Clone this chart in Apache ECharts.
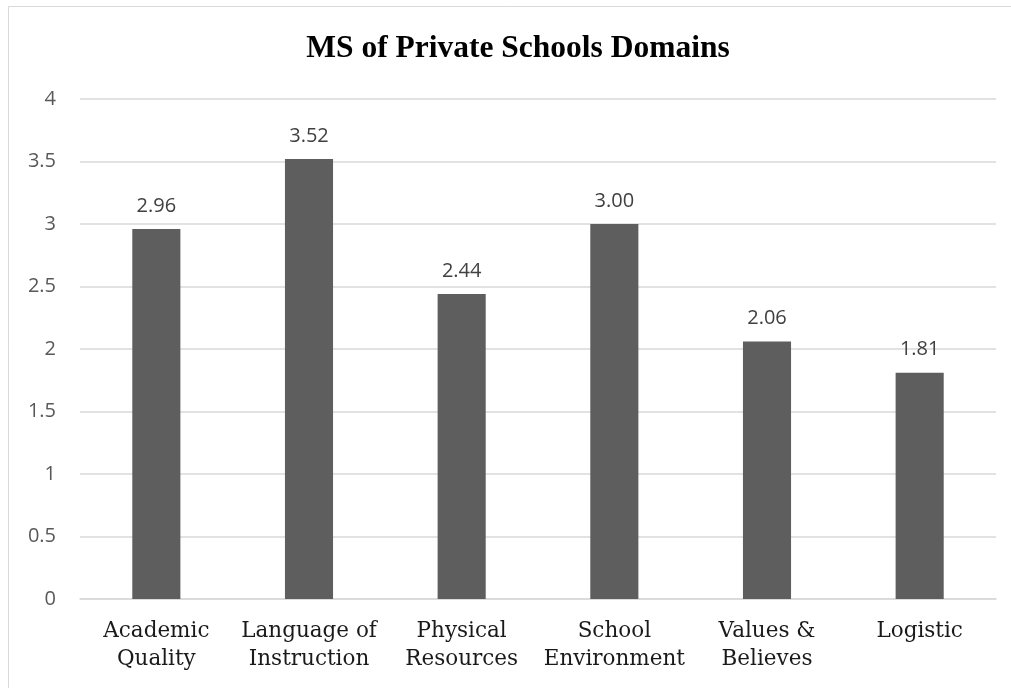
<!DOCTYPE html>
<html>
<head>
<meta charset="utf-8">
<script src="https://cdn.jsdelivr.net/npm/echarts@6/dist/echarts.min.js"></script>
<style>
  html, body { margin: 0; padding: 0; background: #ffffff; }
  #chart { width: 1011px; height: 688px; }
</style>
</head>
<body>
<div id="chart"></div>
<script>
// Domain names (two-line labels) and their mean scores
const categories = [
  'Academic\nQuality',
  'Language of\nInstruction',
  'Physical\nResources',
  'School\nEnvironment',
  'Values &\nBelieves',
  'Logistic'
];
const meanScores = [2.96, 3.52, 2.44, 3.00, 2.06, 1.81];
const yTicks = { min: 0, max: 4, interval: 0.5 };
const chartTitle = 'MS of Private Schools Domains';

const chart = echarts.init(document.getElementById('chart'), null, { renderer: 'canvas' });

chart.setOption({
  animation: false,
  backgroundColor: '#ffffff',
  graphic: [{
    type: 'rect',
    shape: { x: 8.5, y: 6.5, width: 1100, height: 800 },
    style: { fill: 'none', stroke: '#d9d9d9', lineWidth: 1 },
    silent: true
  }],
  title: {
    text: chartTitle,
    left: 513,
    top: 28,
    textAlign: 'center',
    textStyle: {
      fontFamily: 'Liberation Serif',
      fontWeight: 'bold',
      fontSize: 31.5,
      color: '#000000'
    }
  },
  grid: { left: 80, right: 15, top: 99, bottom: 89 },
  xAxis: {
    type: 'category',
    data: categories,
    axisLine: { lineStyle: { color: '#d9d9d9', width: 1.5 } },
    axisTick: { show: false },
    axisLabel: {
      interval: 0,
      margin: 18,
      fontFamily: 'DejaVu Serif',
      fontSize: 21.5,
      lineHeight: 28,
      color: '#1a1a1a'
    }
  },
  yAxis: {
    type: 'value',
    min: yTicks.min,
    max: yTicks.max,
    interval: yTicks.interval,
    axisLine: { show: false },
    axisTick: { show: false },
    splitLine: { lineStyle: { color: '#d9d9d9', width: 1.5 } },
    axisLabel: {
      margin: 24,
      fontFamily: 'Open Sans',
      fontSize: 20,
      color: '#595959'
    }
  },
  series: [{
    type: 'bar',
    data: meanScores,
    barWidth: '31.5%',
    itemStyle: { color: '#5e5e5e' },
    label: {
      show: true,
      position: 'top',
      distance: 13,
      formatter: p => p.value.toFixed(2),
      fontFamily: 'Open Sans',
      fontSize: 20,
      color: '#404040'
    }
  }]
});
</script>
</body>
</html>
